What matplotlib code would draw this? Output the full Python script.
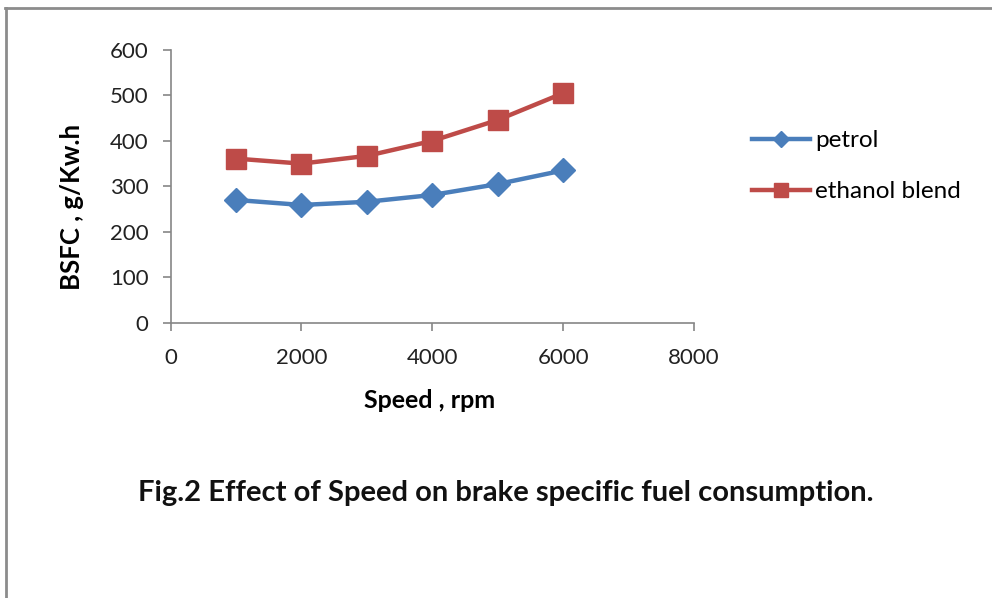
import numpy as np
import matplotlib.pyplot as plt
from matplotlib.lines import Line2D

# datos
speed = [1000, 2000, 3000, 4000, 5000, 6000]
petrol = [270, 259, 266, 281, 305, 335]
ethanol = [361, 350, 367, 400, 446, 505]

plt.rcParams['font.family'] = ['Lato', 'DejaVu Sans']

fig = plt.figure(figsize=(9.92, 5.98), dpi=100)
ax = fig.add_axes([0.172, 0.4604, 0.5276, 0.456])

ax.plot(speed, petrol, '-', color='#4A7EBB', lw=3.2, marker='D', ms=12, label='petrol')
ax.plot(speed, ethanol, '-', color='#BE4B48', lw=3.2, marker='s', ms=14, label='ethanol blend')

ax.set_xlim(0, 8000)
ax.set_ylim(0, 600)
ax.set_xticks(np.arange(0, 8001, 2000))
ax.set_yticks(np.arange(0, 601, 100))
for s in ['top', 'right']:
    ax.spines[s].set_visible(False)
for s in ['left', 'bottom']:
    ax.spines[s].set_color('#868686')
    ax.spines[s].set_linewidth(1.2)
ax.tick_params(axis='both', colors='#868686', labelcolor='#222222', labelsize=16, length=6, width=1.2)
ax.tick_params(axis='y', pad=10)
ax.tick_params(axis='x', pad=12)

ax.set_xlabel('Speed , rpm', fontsize=18, fontweight='bold')
ax.set_ylabel('BSFC , g/Kw.h', fontsize=18.5, fontweight='bold')
ax.xaxis.set_label_coords(0.4955, -0.245)
ax.yaxis.set_label_coords(-0.165, 0.424)

ax.legend(loc='center left', bbox_to_anchor=(0.758, 0.722), bbox_transform=fig.transFigure,
          frameon=False, fontsize=17.5, borderpad=0, borderaxespad=0,
          handlelength=2.4, labelspacing=1.25, handletextpad=0.2, markerscale=0.7)

fig.text(0.51, 0.175, 'Fig.2 Effect of Speed on brake specific fuel consumption.',
         ha='center', va='center', fontsize=21, fontweight='bold', color='#111111')

# marco
fig.add_artist(Line2D([0.005, 1.0], [0.987, 0.987], color='#8c8c8c', lw=2, transform=fig.transFigure))
fig.add_artist(Line2D([0.006, 0.006], [0.0, 0.987], color='#8c8c8c', lw=2, transform=fig.transFigure))

fig.savefig('out.png', dpi=100)
